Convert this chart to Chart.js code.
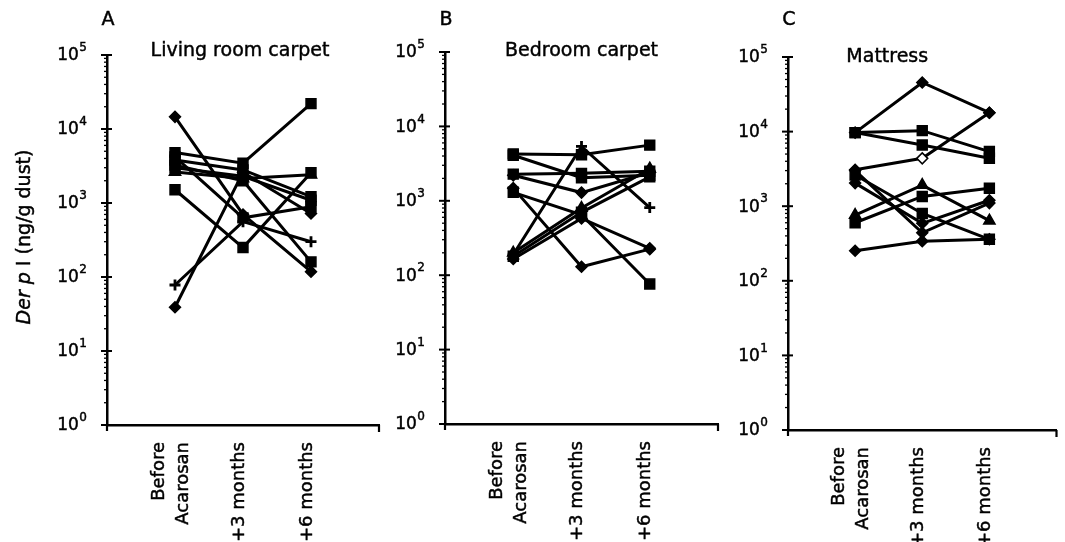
<!DOCTYPE html>
<html>
<head>
<meta charset="utf-8">
<title>Der p I before and after Acarosan</title>
<script src="https://cdn.jsdelivr.net/npm/chart.js@4.4.1/dist/chart.umd.min.js"></script>
<style>
  html, body { margin: 0; padding: 0; background: #fff; }
  #wrap { position: relative; width: 1065px; height: 542px; overflow: hidden; }
  .panel { position: absolute; top: 0; height: 542px; }
</style>
</head>
<body>
<div id="wrap">
  <div class="panel" style="left:0;width:392px"><canvas id="chartA"></canvas></div>
  <div class="panel" style="left:392px;width:340px"><canvas id="chartB"></canvas></div>
  <div class="panel" style="left:732px;width:333px"><canvas id="chartC"></canvas></div>
</div>
<script>
// ---- data (ng/g dust, one index per subject) ----
var categories = ['Before Acarosan', '+3 months', '+6 months'];
var yTickValues = [1, 10, 100, 1000, 10000, 100000];
var yTickExponents = ['0', '1', '2', '3', '4', '5'];

var livingBefore  = [14600, 1510,  78,   39, 4800, 3800, 2630, 3250, 4200, 3000];
var living3Months = [  700,  250, 560, 2600, 3450, 2800, 2150, 2000,  630, 2300];
var living6Months = [  118, 2570, 300,  720, 22000, 1220, 2400, 160,  890, 1090];

var bedroomBefore  = [4270, 4100,  190, 2280, 2200, 1480, 1300,  200, 165,  180];
var bedroom3Months = [4150, 2040, 5380, 2340, 1290,  130,  650,  800, 580,  700];
var bedroom6Months = [5600, 2200,  810, 2500, 2400,  224,   76, 2700, 230, 2100];

var mattressBefore  = [ 9700, 9700, 9700,  3080, 2620, 2040, 3000,  760,  600, 253];
var mattress3Months = [45600, 10300, 6600, 4380,  800,  590,  440, 1920, 1350, 340];
var mattress6Months = [17900, 5400, 4400, 17900,  360, 1200, 1100,  640, 1740, 360];

// ---- marker styles ----
var livingMarkers   = ['rectRot', 'rect', 'cross', 'rectRot', 'rect', 'rect', 'triangle', 'rect', 'rect', 'rect'];
var bedroomMarkers  = ['rect', 'rect', 'cross', 'rect', 'rectRot', 'rectRot', 'rect', 'triangle', 'rectRot', 'rect'];
var mattressMarkers = ['rectRot', 'rect', 'rect', 'rectRot', 'rect', 'rectRot', 'rectRot', 'triangle', 'rect', 'rectRot'];
var markerRadius = { rect: 7, rectRot: 5.5, cross: 5.5, triangle: 6.5 };

var FONT = "'DejaVu Sans', 'Liberation Sans', sans-serif";

function xLabel(i) {
    var name = categories[i];
    if (name === 'Before Acarosan') return ['Before', 'Acarosan'];
    return [name];
}

// printed text in the figure is a little heavier than a plain fill
function inkText(ctx, text, x, y) {
    ctx.fillText(text, x, y);
    ctx.lineWidth = 0.45;
    ctx.strokeText(text, x, y);
}

function buildDatasets(before, m3, m6, markers, hollow) {
    return before.map(function(b, i) {
        var vals = [b, m3[i], m6[i]];
        var style = markers[i];
        var fills = vals.map(function(v, j) {
            return (hollow && hollow[0] === i && hollow[1] === j) ? '#fff' : '#000';
        });
        return {
            data: vals.map(function(v, j) { return { x: j, y: v }; }),
            borderColor: '#000',
            borderWidth: 3,
            pointStyle: style,
            pointRadius: markerRadius[style],
            pointBackgroundColor: fills,
            pointBorderColor: '#000',
            pointBorderWidth: style === 'cross' ? 2.8 : 1.5,
            tension: 0
        };
    });
}

// ticks and labels on the log axis, category labels on the x axis
var axisTicks = {
    id: 'axisTicks',
    afterDraw: function(chart) {
        var ctx = chart.ctx, y = chart.scales.y, x = chart.scales.x, area = chart.chartArea;
        var x0 = area.left;
        ctx.save();
        ctx.strokeStyle = '#000';
        ctx.fillStyle = '#000';
        for (var k = 0; k < yTickValues.length; k++) {
            var base = yTickValues[k];
            var py = y.getPixelForValue(base);
            ctx.lineWidth = 2;
            ctx.beginPath();
            ctx.moveTo(x0 - 6, py);
            ctx.lineTo(x0 + 5, py);
            ctx.stroke();

            // 10 with a raised exponent
            ctx.textBaseline = 'middle';
            ctx.textAlign = 'right';
            ctx.font = '12px ' + FONT;
            var ex = x0 - 20;
            inkText(ctx, yTickExponents[k], ex, py - 7);
            var ew = ctx.measureText(yTickExponents[k]).width;
            ctx.font = '17px ' + FONT;
            inkText(ctx, '10', ex - ew - 0.5, py + 1);

            if (k === yTickValues.length - 1) break;
            ctx.lineWidth = 1.3;
            for (var d = 2; d < 10; d++) {
                var p = y.getPixelForValue(base * d);
                ctx.beginPath();
                ctx.moveTo(x0 - 3, p);
                ctx.lineTo(x0, p);
                ctx.stroke();
            }
        }
        ctx.lineWidth = 2.2;
        ctx.beginPath();
        ctx.moveTo(x0, area.bottom);
        ctx.lineTo(x0, area.bottom + 6);
        ctx.moveTo(area.right, area.bottom);
        ctx.lineTo(area.right, area.bottom + 7);
        ctx.stroke();

        // rotated category labels, reading upwards, ending under the axis
        ctx.font = '18px ' + FONT;
        ctx.textAlign = 'right';
        ctx.textBaseline = 'middle';
        var lh = 24;
        categories.forEach(function(c, i) {
            var lines = xLabel(i);
            var px = x.getPixelForValue(i) - 4;
            lines.forEach(function(line, j) {
                var off = (j - (lines.length - 1) / 2) * lh;
                ctx.save();
                ctx.translate(px + off, area.bottom + 17);
                ctx.rotate(-Math.PI / 2);
                inkText(ctx, line, 0, 0);
                ctx.restore();
            });
        });
        ctx.restore();
    }
};

// panel letter and title
var panelTitles = {
    id: 'panelTitles',
    afterDraw: function(chart, args, opts) {
        var ctx = chart.ctx, area = chart.chartArea;
        ctx.save();
        ctx.fillStyle = '#000';
        ctx.strokeStyle = '#000';
        ctx.textBaseline = 'middle';
        ctx.textAlign = 'center';
        ctx.font = '19px ' + FONT;
        inkText(ctx, opts.letter, area.left + 1, 20);
        inkText(ctx, opts.text, (area.left + area.right) / 2 + opts.dx, opts.ty);
        if (opts.yTitle) {
            ctx.translate(25, 237);
            ctx.rotate(-Math.PI / 2);
            ctx.textAlign = 'left';
            var italic = 'italic 19px ' + FONT, plain = '19px ' + FONT;
            ctx.font = italic;
            var w1 = ctx.measureText('Der p').width;
            ctx.font = plain;
            var w2 = ctx.measureText(' I (ng/g dust)').width;
            var sx = -(w1 + w2) / 2;
            ctx.font = italic;
            inkText(ctx, 'Der p', sx, 0);
            ctx.font = plain;
            inkText(ctx, ' I (ng/g dust)', sx + w1, 0);
        }
        ctx.restore();
    }
};

function makePanel(id, datasets, geo, titleOpts) {
    new Chart(document.getElementById(id), {
        type: 'line',
        data: { datasets: datasets },
        plugins: [axisTicks, panelTitles],
        options: {
            responsive: true,
            maintainAspectRatio: false,
            animation: false,
            layout: { padding: { left: 0, right: geo.right, top: geo.top, bottom: 0 } },
            plugins: {
                legend: { display: false },
                tooltip: { enabled: false },
                panelTitles: titleOpts
            },
            scales: {
                x: {
                    type: 'linear', min: -1, max: 3,
                    afterBuildTicks: function(s) {
                        s.ticks = categories.map(function(c, i) { return { value: i }; });
                    },
                    afterFit: function(s) { s.height = geo.xHeight; },
                    ticks: { display: false },
                    grid: { display: false, drawTicks: false },
                    border: { display: true, color: '#000', width: 2.5 }
                },
                y: {
                    type: 'logarithmic', min: 1, max: 100000,
                    afterBuildTicks: function(s) {
                        s.ticks = yTickValues.map(function(v) { return { value: v }; });
                    },
                    afterFit: function(s) { s.width = geo.yWidth; },
                    ticks: { display: false },
                    grid: { display: false, drawTicks: false },
                    border: { display: true, color: '#000', width: 2.5 }
                }
            }
        }
    });
}

makePanel('chartA',
    buildDatasets(livingBefore, living3Months, living6Months, livingMarkers),
    { yWidth: 107, right: 13, top: 55, xHeight: 117 },
    { letter: 'A', text: 'Living room carpet', dx: -3, ty: 51, yTitle: true });

makePanel('chartB',
    buildDatasets(bedroomBefore, bedroom3Months, bedroom6Months, bedroomMarkers),
    { yWidth: 53, right: 14, top: 52, xHeight: 118 },
    { letter: 'B', text: 'Bedroom carpet', dx: 0, ty: 51 });

makePanel('chartC',
    buildDatasets(mattressBefore, mattress3Months, mattress6Months, mattressMarkers, [3, 1]),
    { yWidth: 56, right: 7, top: 57, xHeight: 112 },
    { letter: 'C', text: 'Mattress', dx: -35, ty: 57 });
</script>
</body>
</html>
